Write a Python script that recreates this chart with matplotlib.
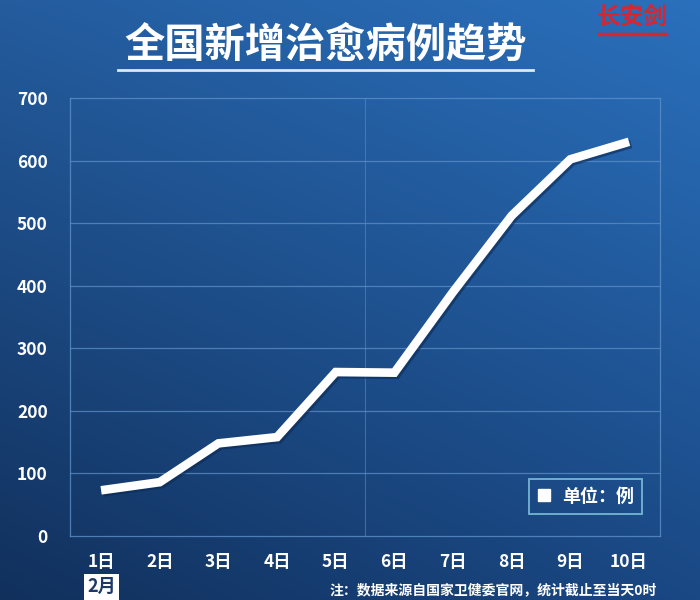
import matplotlib.pyplot as plt
import matplotlib.patheffects as pe
from matplotlib.lines import Line2D
import numpy as np

plt.rcParams['font.family'] = ['Noto Sans CJK SC', 'DejaVu Sans']

# 数据
days = ['1日', '2日', '3日', '4日', '5日', '6日', '7日', '8日', '9日', '10日']
cured = [73, 86, 148, 158, 262, 261, 390, 512, 602, 630]
y_ticks = [0, 100, 200, 300, 400, 500, 600, 700]

fig = plt.figure(figsize=(7, 6), dpi=100)

# 背景渐变
bg = fig.add_axes([0, 0, 1, 1], zorder=0)
bg.axis('off')
tl = np.array([36, 92, 158]) / 255
tr = np.array([42, 112, 188]) / 255
bl = np.array([17, 48, 92]) / 255
br = np.array([26, 72, 132]) / 255
u = np.linspace(0, 1, 200)[None, :, None]
v = np.linspace(0, 1, 200)[:, None, None]
grad = (1 - v) * ((1 - u) * tl + u * tr) + v * ((1 - u) * bl + u * br)
bg.imshow(grad, extent=[0, 1, 0, 1], aspect='auto', origin='upper')
bg.set_xlim(0, 1)
bg.set_ylim(0, 1)

ax = fig.add_axes([0.1, 0.1067, 0.843, 0.73], zorder=1)
ax.patch.set_alpha(0)
x = np.arange(1, len(days) + 1)
ax.plot(x, cured, color='white', lw=6.2, solid_joinstyle='miter',
        solid_capstyle='butt',
        path_effects=[pe.SimpleLineShadow(offset=(1.5, -1.5), shadow_color='#0b2a55', alpha=0.6),
                      pe.Normal()])

ax.set_xlim(0.47, 10.53)
ax.set_ylim(0, 700)
ax.set_yticks(y_ticks)
ax.set_xticks(x)
ax.set_xticklabels(days)
grid_c = '#5d8fc8'
for yv in y_ticks[1:-1]:
    ax.axhline(yv, color=grid_c, lw=0.9, alpha=0.75, zorder=0)
ax.axvline(5.5, color=grid_c, lw=0.8, alpha=0.55, zorder=0)
for s in ax.spines.values():
    s.set_color(grid_c)
    s.set_linewidth(0.9)
    s.set_alpha(0.8)
ax.tick_params(length=0, colors='white', labelsize=12.5)
ax.tick_params(axis='y', pad=16)
ax.tick_params(axis='x', pad=12)
for lab in ax.get_xticklabels() + ax.get_yticklabels():
    lab.set_fontweight('bold')
    lab.set_color('white')

# 图例
h = Line2D([], [], marker='s', color='white', lw=0, markersize=9)
leg = ax.legend([h], ['单位：例'], loc='lower right', bbox_to_anchor=(0.985, 0.03),
                frameon=True, fancybox=False, handlelength=0.8, handletextpad=0.6,
                prop={'size': 13, 'weight': 'bold'}, borderpad=0.45)
leg.get_frame().set_facecolor('none')
leg.get_frame().set_edgecolor('#8ad0e6')
leg.get_frame().set_linewidth(1.3)
for t in leg.get_texts():
    t.set_color('white')

# 标题
fig.text(0.465, 0.925, '全国新增治愈病例趋势', color='white', fontsize=29,
         fontweight='bold', ha='center', va='center')
fig.add_artist(Line2D([0.168, 0.762], [0.883, 0.883], color='#dbe9f7', lw=2))

# 角标
fig.text(0.903, 0.972, '长安剑', color='#d8262e', fontsize=17, fontweight='bold',
         ha='center', va='center', style='italic')
fig.add_artist(Line2D([0.855, 0.952], [0.944, 0.944], color='#d8262e', lw=2.5))

# 底部
fig.text(0.145, 0.006, '2月', color='#1b3a66', fontsize=13, fontweight='bold',
         ha='center', va='bottom',
         bbox=dict(boxstyle='square,pad=0.2', facecolor='white', edgecolor='none'))
fig.text(0.47, 0.004, '注：数据来源自国家卫健委官网，统计截止至当天0时', color='white',
         fontsize=10, fontweight='bold', ha='left', va='bottom')

fig.savefig('out.png', dpi=100)
